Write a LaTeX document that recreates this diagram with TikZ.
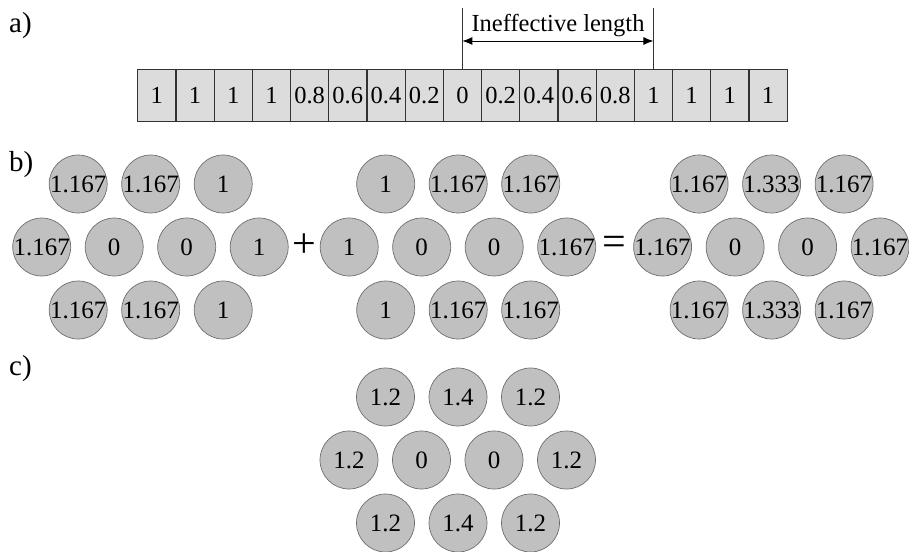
\documentclass[tikz,border=0pt]{standalone}
\usepackage{fontspec}
\setmainfont{Liberation Serif}
\usetikzlibrary{arrows.meta}
\definecolor{cellfill}{RGB}{220,220,220}
\definecolor{rodfill}{RGB}{192,192,192}
\definecolor{rodline}{RGB}{110,110,110}
\definecolor{cellline}{RGB}{50,50,50}
\newcommand\hexgroup[6]{%
  \foreach \v [count=\i] in {#4} \node[rod] (#1a\i) at ({#2+36.5+72.5*(\i-1)},{#3}) {\makebox[0pt]{\v}};
  \foreach \v [count=\i] in {#5} \node[rod] (#1b\i) at ({#2+72.5*(\i-1)},{#3+63}) {\makebox[0pt]{\v}};
  \foreach \v [count=\i] in {#6} \node[rod] (#1c\i) at ({#2+36.5+72.5*(\i-1)},{#3+126}) {\makebox[0pt]{\v}};
}
\begin{document}
\begin{tikzpicture}[x=1pt,y=-1pt,
  cellbox/.style={draw=cellline, line width=1.2pt, fill=cellfill, minimum width=38.2pt, minimum height=52.4pt, inner sep=0pt, font=\fontsize{24.5}{24.5}\selectfont},
  rod/.style={circle, draw=rodline, line width=0.7pt, fill=rodfill, minimum size=58pt, inner sep=0pt, font=\fontsize{25}{25}\selectfont},
  lbl/.style={anchor=base west, inner sep=0pt, font=\fontsize{29}{29}\selectfont},
  op/.style={anchor=base, inner sep=0pt, font=\fontsize{42}{42}\selectfont},
  dimline/.style={draw=black!80, line width=0.9pt}]
\useasboundingbox (0,0) rectangle (909,551);
% labels
\node[lbl] (la) at (9,33) {a)};
\node[lbl] (lb) at (9,171) {b)};
\node[lbl] (lc) at (9,375) {c)};
% strip
\foreach \v [count=\i] in {1,1,1,1,0.8,0.6,0.4,0.2,0,0.2,0.4,0.6,0.8,1,1,1,1}
  \node[cellbox] (c\i) at ({137.7+38.2*(\i-0.5)},95.5) {\v};
% ineffective length dimension
\coordinate (dlt) at (c9.north |- 0,8.3);
\coordinate (drt) at (c14.north |- 0,8.3);
\coordinate (al) at (c9.north |- 0,41);
\coordinate (ar) at (c14.north |- 0,41);
\draw[dimline] (c9.north) -- (dlt);
\draw[dimline] (c14.north) -- (drt);
\draw[black, line width=0.9pt, {Latex[length=10pt,width=8pt]}-{Latex[length=10pt,width=8pt]}] (al) -- (ar);
\node[anchor=base, inner sep=0pt, font=\fontsize{24.5}{24.5}\selectfont] (ineff) at (558,32) {Ineffective length};
% b)
\hexgroup{L}{41.7}{184}{1.167,1.167,1}{1.167,0,0,1}{1.167,1.167,1}
\hexgroup{M}{349.2}{184}{1,1.167,1.167}{1,0,0,1.167}{1,1.167,1.167}
\hexgroup{R}{662.6}{184}{1.167,1.333,1.167}{1.167,0,0,1.167}{1.167,1.333,1.167}
\node[op] (plus) at (304,257.3) {+};
\node[op] (equal) at (614,255.6) {=};
% c)
\hexgroup{C}{349}{397}{1.2,1.4,1.2}{1.2,0,0,1.2}{1.2,1.4,1.2}
\end{tikzpicture}
\end{document}
